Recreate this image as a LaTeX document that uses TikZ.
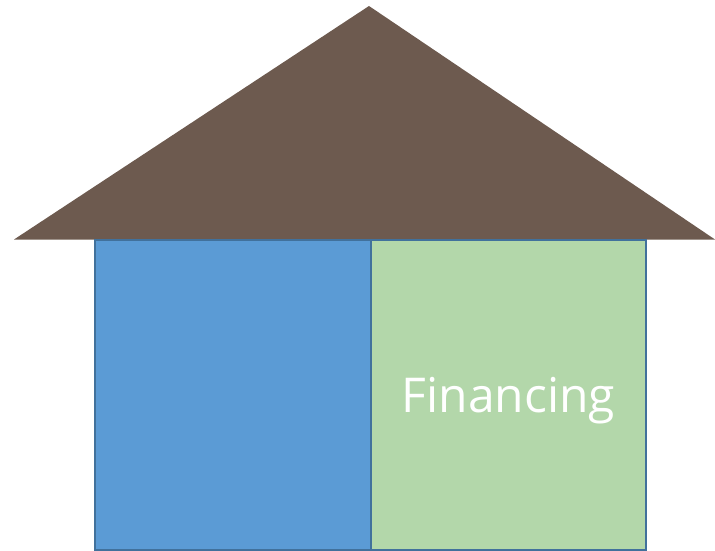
\documentclass[tikz,border=0pt]{standalone}
\usepackage{fontspec}
\setmainfont{Open Sans}
\definecolor{roofc}{HTML}{6D5A4F}
\definecolor{bluec}{HTML}{5B9BD5}
\definecolor{greenc}{HTML}{B3D7AA}
\definecolor{edgec}{HTML}{41719C}
\begin{document}
\begin{tikzpicture}[x=1pt,y=-1pt,
  roofstyle/.style={fill=roofc,draw=none},
  wallbox/.style={draw=edgec,line width=1.6pt,minimum width=276pt,minimum height=310pt,inner sep=0pt,outer sep=0pt},
  label/.style={text=white,font=\fontsize{48}{56}\selectfont}]
\useasboundingbox (0,0) rectangle (715,551);
\coordinate (apex) at (369,6);
\coordinate (lt) at (14,239.5);
\coordinate (rt) at (715,239.5);
\fill[roofstyle] (lt) -- (apex) -- (rt) -- cycle;
\node[wallbox,fill=bluec,anchor=north west] (left) at (95,240) {};
\node[wallbox,fill=greenc,anchor=north west,minimum width=275pt] (right) at (371,240) {};
\node[label,yshift=-6pt] (fin) at (right.center) {Financing};
\end{tikzpicture}
\end{document}
